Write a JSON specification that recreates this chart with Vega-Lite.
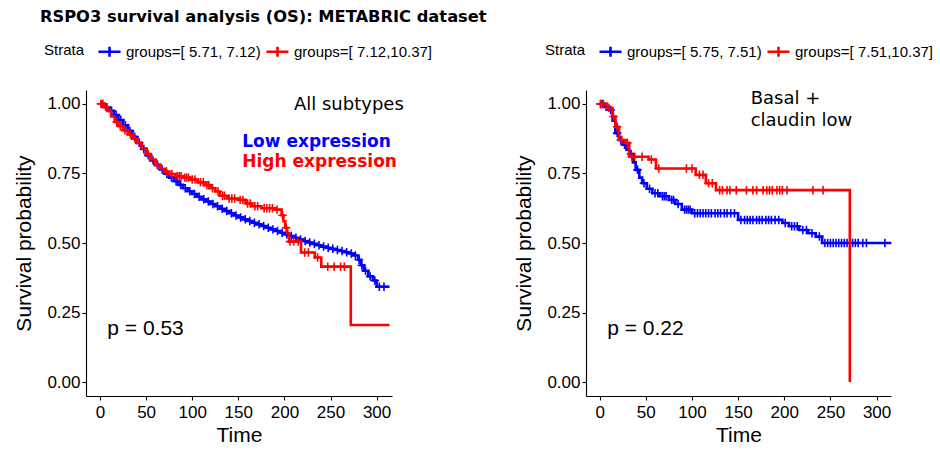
{
  "$schema": "https://vega.github.io/schema/vega-lite/v6.json",
  "background": "white",
  "padding": {"left": 13, "top": 8, "right": 5, "bottom": 5},
  "title": {"text": "RSPO3 survival analysis (OS): METABRIC dataset", "anchor": "start", "font": "DejaVu Sans", "fontSize": 16.3, "fontWeight": "bold", "color": "black", "offset": 14, "dx": 26},
  "bounds": "flush",
  "spacing": 194,
  "config": {
    "view": {"stroke": null},
    "axis": {"domainColor": "black", "domainWidth": 1.1, "tickColor": "black", "tickWidth": 1.1, "tickSize": 4, "grid": false, "labelColor": "black", "labelFont": "Liberation Sans", "labelFontSize": 17, "titleFont": "Liberation Sans", "titleFontSize": 21, "titleFontWeight": "normal", "titleColor": "black"},
    "axisX": {"labelPadding": 4, "titlePadding": 4},
    "axisY": {"labelPadding": 2, "titlePadding": 12},
    "legend": {"orient": "none", "direction": "horizontal", "titleOrient": "left", "titleFont": "Liberation Sans", "titleFontSize": 15, "titleFontWeight": "normal", "titleColor": "black", "labelFont": "Liberation Sans", "labelFontSize": 15, "labelColor": "black", "symbolType": "M-1,0L1,0M0,-0.45L0,0.45", "symbolSize": 484, "symbolStrokeWidth": 2.6, "symbolFillColor": "transparent", "labelOffset": 4, "columnPadding": 0, "titlePadding": 12}
  },
  "datasets": {
    "A_low_curve": [{"t":0,"s":1},{"t":5,"s":0.988},{"t":10,"s":0.975},{"t":15,"s":0.96},{"t":20,"s":0.942},{"t":25,"s":0.923},{"t":30,"s":0.903},{"t":35,"s":0.882},{"t":40,"s":0.86},{"t":45,"s":0.838},{"t":50,"s":0.815},{"t":55,"s":0.797},{"t":60,"s":0.78},{"t":65,"s":0.764},{"t":70,"s":0.749},{"t":75,"s":0.735},{"t":80,"s":0.722},{"t":85,"s":0.709},{"t":90,"s":0.697},{"t":95,"s":0.686},{"t":100,"s":0.676},{"t":105,"s":0.666},{"t":110,"s":0.657},{"t":115,"s":0.649},{"t":120,"s":0.64},{"t":125,"s":0.632},{"t":130,"s":0.623},{"t":135,"s":0.615},{"t":140,"s":0.607},{"t":145,"s":0.599},{"t":150,"s":0.592},{"t":155,"s":0.585},{"t":160,"s":0.579},{"t":165,"s":0.573},{"t":170,"s":0.567},{"t":175,"s":0.561},{"t":180,"s":0.555},{"t":185,"s":0.549},{"t":190,"s":0.543},{"t":195,"s":0.537},{"t":200,"s":0.531},{"t":205,"s":0.525},{"t":210,"s":0.519},{"t":215,"s":0.513},{"t":220,"s":0.507},{"t":225,"s":0.502},{"t":230,"s":0.497},{"t":235,"s":0.492},{"t":240,"s":0.487},{"t":245,"s":0.483},{"t":250,"s":0.479},{"t":255,"s":0.475},{"t":260,"s":0.471},{"t":265,"s":0.467},{"t":270,"s":0.462},{"t":275,"s":0.455},{"t":280,"s":0.44},{"t":283,"s":0.42},{"t":286,"s":0.4},{"t":291,"s":0.38},{"t":296,"s":0.365},{"t":300,"s":0.343},{"t":314,"s":0.343}],
    "A_low_cens": [{"t":2.5,"s":1},{"t":7.5,"s":0.988},{"t":12.5,"s":0.975},{"t":17.5,"s":0.96},{"t":22.5,"s":0.942},{"t":27.5,"s":0.923},{"t":32.5,"s":0.903},{"t":37.5,"s":0.882},{"t":42.5,"s":0.86},{"t":47.5,"s":0.838},{"t":52.5,"s":0.815},{"t":57.5,"s":0.797},{"t":62.5,"s":0.78},{"t":67.5,"s":0.764},{"t":72.5,"s":0.749},{"t":77.5,"s":0.735},{"t":82.5,"s":0.722},{"t":87.5,"s":0.709},{"t":92.5,"s":0.697},{"t":97.5,"s":0.686},{"t":102.5,"s":0.676},{"t":107.5,"s":0.666},{"t":112.5,"s":0.657},{"t":117.5,"s":0.649},{"t":122.5,"s":0.64},{"t":127.5,"s":0.632},{"t":132.5,"s":0.623},{"t":137.5,"s":0.615},{"t":142.5,"s":0.607},{"t":147.5,"s":0.599},{"t":152.5,"s":0.592},{"t":157.5,"s":0.585},{"t":162.5,"s":0.579},{"t":167.5,"s":0.573},{"t":172.5,"s":0.567},{"t":177.5,"s":0.561},{"t":182.5,"s":0.555},{"t":187.5,"s":0.549},{"t":192.5,"s":0.543},{"t":197.5,"s":0.537},{"t":202.5,"s":0.531},{"t":207.5,"s":0.525},{"t":212.5,"s":0.519},{"t":217.5,"s":0.513},{"t":222.5,"s":0.507},{"t":227.5,"s":0.502},{"t":232.5,"s":0.497},{"t":237.5,"s":0.492},{"t":242.5,"s":0.487},{"t":247.5,"s":0.483},{"t":252.5,"s":0.479},{"t":257.5,"s":0.475},{"t":262.5,"s":0.471},{"t":267.5,"s":0.467},{"t":272.5,"s":0.462},{"t":277,"s":0.455},{"t":281,"s":0.44},{"t":284,"s":0.42},{"t":288,"s":0.4},{"t":293,"s":0.38},{"t":298,"s":0.365},{"t":303,"s":0.343},{"t":308,"s":0.343}],
    "A_high_curve": [{"t":0,"s":1},{"t":4,"s":0.99},{"t":8,"s":0.975},{"t":12,"s":0.955},{"t":16,"s":0.935},{"t":20,"s":0.92},{"t":25,"s":0.905},{"t":30,"s":0.89},{"t":35,"s":0.875},{"t":40,"s":0.86},{"t":45,"s":0.84},{"t":50,"s":0.82},{"t":55,"s":0.8},{"t":60,"s":0.782},{"t":65,"s":0.767},{"t":70,"s":0.757},{"t":75,"s":0.748},{"t":82,"s":0.74},{"t":90,"s":0.735},{"t":98,"s":0.728},{"t":106,"s":0.718},{"t":114,"s":0.708},{"t":120,"s":0.697},{"t":125,"s":0.685},{"t":130,"s":0.67},{"t":138,"s":0.66},{"t":150,"s":0.655},{"t":158,"s":0.642},{"t":165,"s":0.632},{"t":175,"s":0.625},{"t":190,"s":0.62},{"t":197,"s":0.6},{"t":199,"s":0.578},{"t":201,"s":0.555},{"t":203,"s":0.535},{"t":205,"s":0.505},{"t":218,"s":0.466},{"t":233,"s":0.448},{"t":240,"s":0.415},{"t":272,"s":0.205},{"t":314,"s":0.205}],
    "A_high_cens": [{"t":1,"s":1},{"t":3,"s":1},{"t":6,"s":0.99},{"t":18,"s":0.935},{"t":22,"s":0.92},{"t":27,"s":0.905},{"t":33,"s":0.89},{"t":38,"s":0.875},{"t":52,"s":0.82},{"t":62,"s":0.782},{"t":72,"s":0.757},{"t":78,"s":0.748},{"t":84,"s":0.74},{"t":86,"s":0.74},{"t":88,"s":0.74},{"t":92,"s":0.735},{"t":94,"s":0.735},{"t":96,"s":0.735},{"t":100,"s":0.728},{"t":103,"s":0.728},{"t":109,"s":0.718},{"t":112,"s":0.718},{"t":116,"s":0.708},{"t":118,"s":0.708},{"t":122,"s":0.697},{"t":128,"s":0.685},{"t":133,"s":0.67},{"t":135,"s":0.67},{"t":140,"s":0.66},{"t":143,"s":0.66},{"t":146,"s":0.66},{"t":152,"s":0.655},{"t":155,"s":0.655},{"t":160,"s":0.642},{"t":163,"s":0.642},{"t":168,"s":0.632},{"t":171,"s":0.632},{"t":178,"s":0.625},{"t":181,"s":0.625},{"t":184,"s":0.625},{"t":187,"s":0.625},{"t":192,"s":0.62},{"t":198,"s":0.6},{"t":202,"s":0.555},{"t":206,"s":0.505},{"t":210,"s":0.505},{"t":215,"s":0.505},{"t":222,"s":0.466},{"t":226,"s":0.466},{"t":236,"s":0.448},{"t":247,"s":0.415},{"t":254,"s":0.415},{"t":261,"s":0.415},{"t":265,"s":0.415}],
    "B_low_curve": [{"t":0,"s":1},{"t":5,"s":0.99},{"t":10,"s":0.978},{"t":14,"s":0.94},{"t":17,"s":0.895},{"t":21,"s":0.87},{"t":25,"s":0.853},{"t":29,"s":0.835},{"t":32,"s":0.82},{"t":36,"s":0.79},{"t":39,"s":0.763},{"t":43,"s":0.735},{"t":46,"s":0.715},{"t":51,"s":0.695},{"t":57,"s":0.679},{"t":65,"s":0.668},{"t":75,"s":0.655},{"t":82,"s":0.64},{"t":89,"s":0.62},{"t":100,"s":0.607},{"t":150,"s":0.583},{"t":198,"s":0.572},{"t":205,"s":0.56},{"t":216,"s":0.547},{"t":226,"s":0.535},{"t":234,"s":0.523},{"t":241,"s":0.5},{"t":316,"s":0.5}],
    "B_low_cens": [{"t":1,"s":1},{"t":3,"s":1},{"t":7,"s":0.99},{"t":12,"s":0.978},{"t":19,"s":0.895},{"t":23,"s":0.87},{"t":27,"s":0.853},{"t":34,"s":0.82},{"t":41,"s":0.763},{"t":48,"s":0.715},{"t":54,"s":0.695},{"t":60,"s":0.679},{"t":63,"s":0.679},{"t":68,"s":0.668},{"t":70,"s":0.668},{"t":72,"s":0.668},{"t":78,"s":0.655},{"t":80,"s":0.655},{"t":85,"s":0.64},{"t":92,"s":0.62},{"t":94,"s":0.62},{"t":96,"s":0.62},{"t":98,"s":0.62},{"t":103,"s":0.607},{"t":106,"s":0.607},{"t":109,"s":0.607},{"t":112,"s":0.607},{"t":115,"s":0.607},{"t":118,"s":0.607},{"t":121,"s":0.607},{"t":125,"s":0.607},{"t":128,"s":0.607},{"t":131,"s":0.607},{"t":135,"s":0.607},{"t":138,"s":0.607},{"t":142,"s":0.607},{"t":146,"s":0.607},{"t":153,"s":0.583},{"t":157,"s":0.583},{"t":160,"s":0.583},{"t":163,"s":0.583},{"t":166,"s":0.583},{"t":170,"s":0.583},{"t":173,"s":0.583},{"t":176,"s":0.583},{"t":180,"s":0.583},{"t":183,"s":0.583},{"t":186,"s":0.583},{"t":190,"s":0.583},{"t":194,"s":0.583},{"t":201,"s":0.572},{"t":208,"s":0.56},{"t":211,"s":0.56},{"t":214,"s":0.56},{"t":220,"s":0.547},{"t":224,"s":0.547},{"t":230,"s":0.535},{"t":238,"s":0.523},{"t":244,"s":0.5},{"t":247,"s":0.5},{"t":250,"s":0.5},{"t":253,"s":0.5},{"t":256,"s":0.5},{"t":259,"s":0.5},{"t":262,"s":0.5},{"t":265,"s":0.5},{"t":268,"s":0.5},{"t":271,"s":0.5},{"t":274,"s":0.5},{"t":277,"s":0.5},{"t":280,"s":0.5},{"t":285,"s":0.5},{"t":289,"s":0.5},{"t":309,"s":0.5}],
    "B_high_curve": [{"t":0,"s":1},{"t":8,"s":0.985},{"t":14,"s":0.955},{"t":17,"s":0.918},{"t":21,"s":0.87},{"t":28,"s":0.86},{"t":32,"s":0.81},{"t":53,"s":0.8},{"t":61,"s":0.768},{"t":104,"s":0.745},{"t":115,"s":0.715},{"t":126,"s":0.69},{"t":271,"s":0}],
    "B_high_cens": [{"t":1,"s":1},{"t":4,"s":1},{"t":10,"s":0.985},{"t":15,"s":0.955},{"t":19,"s":0.918},{"t":24,"s":0.87},{"t":30,"s":0.86},{"t":35,"s":0.81},{"t":38,"s":0.81},{"t":46,"s":0.81},{"t":56,"s":0.8},{"t":64,"s":0.768},{"t":94,"s":0.768},{"t":100,"s":0.768},{"t":108,"s":0.745},{"t":112,"s":0.745},{"t":118,"s":0.715},{"t":122,"s":0.715},{"t":130,"s":0.69},{"t":133,"s":0.69},{"t":138,"s":0.69},{"t":141,"s":0.69},{"t":148,"s":0.69},{"t":159,"s":0.69},{"t":166,"s":0.69},{"t":170,"s":0.69},{"t":177,"s":0.69},{"t":181,"s":0.69},{"t":184,"s":0.69},{"t":187,"s":0.69},{"t":192,"s":0.69},{"t":195,"s":0.69},{"t":198,"s":0.69},{"t":203,"s":0.69},{"t":231,"s":0.69},{"t":242,"s":0.69}]
  },
  "hconcat": [
    {
      "width": 306,
      "height": 306,
      "layer": [
        {"data": {"name": "A_low_curve"}, "mark": {"type": "line", "interpolate": "step-after", "strokeWidth": 2.6},
         "encoding": {
           "x": {"field": "t", "type": "quantitative", "scale": {"domain": [-15.2, 316.7], "nice": false, "zero": false}, "axis": {"title": "Time", "values": [0, 50, 100, 150, 200, 250, 300]}},
           "y": {"field": "s", "type": "quantitative", "scale": {"domain": [-0.05, 1.05], "nice": false, "zero": false}, "axis": {"title": "Survival probability", "values": [0, 0.25, 0.5, 0.75, 1], "format": ".2f"}},
           "color": {"datum": "groups=[ 5.71, 7.12)", "type": "nominal", "scale": {"domain": ["groups=[ 5.71, 7.12)", "groups=[ 7.12,10.37]"], "range": ["#0000ff", "#ff0000"]}, "legend": {"title": "Strata", "legendX": -42, "legendY": -51}}
         }},
        {"data": {"name": "A_low_cens"}, "mark": {"type": "point", "shape": "M-1,0L1,0M0,-1L0,1", "filled": false, "size": 72, "strokeWidth": 1.6, "opacity": 1},
         "encoding": {"x": {"field": "t", "type": "quantitative"}, "y": {"field": "s", "type": "quantitative"}, "color": {"datum": "groups=[ 5.71, 7.12)", "type": "nominal"}}},
        {"data": {"name": "A_high_curve"}, "mark": {"type": "line", "interpolate": "step-after", "strokeWidth": 2.6},
         "encoding": {"x": {"field": "t", "type": "quantitative"}, "y": {"field": "s", "type": "quantitative"}, "color": {"datum": "groups=[ 7.12,10.37]", "type": "nominal"}}},
        {"data": {"name": "A_high_cens"}, "mark": {"type": "point", "shape": "M-1,0L1,0M0,-1L0,1", "filled": false, "size": 72, "strokeWidth": 1.6, "opacity": 1},
         "encoding": {"x": {"field": "t", "type": "quantitative"}, "y": {"field": "s", "type": "quantitative"}, "color": {"datum": "groups=[ 7.12,10.37]", "type": "nominal"}}},
        {"data": {"values": [{"label": "All subtypes"}]}, "mark": {"type": "text", "align": "right", "baseline": "alphabetic", "font": "DejaVu Sans", "fontSize": 18, "color": "black"},
         "encoding": {"x": {"datum": 329.5}, "y": {"datum": 0.978}, "text": {"field": "label"}}},
        {"data": {"values": [{"label": "Low expression"}]}, "mark": {"type": "text", "align": "left", "baseline": "alphabetic", "font": "DejaVu Sans", "fontSize": 17, "fontWeight": "bold", "color": "#0000ff"},
         "encoding": {"x": {"datum": 154.3}, "y": {"datum": 0.846}, "text": {"field": "label"}}},
        {"data": {"values": [{"label": "High expression"}]}, "mark": {"type": "text", "align": "left", "baseline": "alphabetic", "font": "DejaVu Sans", "fontSize": 17, "fontWeight": "bold", "color": "#ff0000"},
         "encoding": {"x": {"datum": 154.3}, "y": {"datum": 0.774}, "text": {"field": "label"}}},
        {"data": {"values": [{"label": "p = 0.53"}]}, "mark": {"type": "text", "align": "left", "baseline": "alphabetic", "font": "Liberation Sans", "fontSize": 21, "color": "black"},
         "encoding": {"x": {"datum": 7.9}, "y": {"datum": 0.169}, "text": {"field": "label"}}}
      ]
    },
    {
      "width": 305,
      "height": 306,
      "layer": [
        {"data": {"name": "B_low_curve"}, "mark": {"type": "line", "interpolate": "step-after", "strokeWidth": 2.6},
         "encoding": {
           "x": {"field": "t", "type": "quantitative", "scale": {"domain": [-14.8, 315.6], "nice": false, "zero": false}, "axis": {"title": "Time", "values": [0, 50, 100, 150, 200, 250, 300]}},
           "y": {"field": "s", "type": "quantitative", "scale": {"domain": [-0.05, 1.05], "nice": false, "zero": false}, "axis": {"title": "Survival probability", "values": [0, 0.25, 0.5, 0.75, 1], "format": ".2f"}},
           "color": {"datum": "groups=[ 5.75, 7.51)", "type": "nominal", "scale": {"domain": ["groups=[ 5.75, 7.51)", "groups=[ 7.51,10.37]"], "range": ["#0000ff", "#ff0000"]}, "legend": {"title": "Strata", "legendX": -41, "legendY": -51}}
         }},
        {"data": {"name": "B_low_cens"}, "mark": {"type": "point", "shape": "M-1,0L1,0M0,-1L0,1", "filled": false, "size": 72, "strokeWidth": 1.6, "opacity": 1},
         "encoding": {"x": {"field": "t", "type": "quantitative"}, "y": {"field": "s", "type": "quantitative"}, "color": {"datum": "groups=[ 5.75, 7.51)", "type": "nominal"}}},
        {"data": {"name": "B_high_curve"}, "mark": {"type": "line", "interpolate": "step-after", "strokeWidth": 2.6},
         "encoding": {"x": {"field": "t", "type": "quantitative"}, "y": {"field": "s", "type": "quantitative"}, "color": {"datum": "groups=[ 7.51,10.37]", "type": "nominal"}}},
        {"data": {"name": "B_high_cens"}, "mark": {"type": "point", "shape": "M-1,0L1,0M0,-1L0,1", "filled": false, "size": 72, "strokeWidth": 1.6, "opacity": 1},
         "encoding": {"x": {"field": "t", "type": "quantitative"}, "y": {"field": "s", "type": "quantitative"}, "color": {"datum": "groups=[ 7.51,10.37]", "type": "nominal"}}},
        {"data": {"values": [{"label": "Basal +"}]}, "mark": {"type": "text", "align": "left", "baseline": "alphabetic", "font": "DejaVu Sans", "fontSize": 18, "color": "black"},
         "encoding": {"x": {"datum": 163.6}, "y": {"datum": 1.0}, "text": {"field": "label"}}},
        {"data": {"values": [{"label": "claudin low"}]}, "mark": {"type": "text", "align": "left", "baseline": "alphabetic", "font": "DejaVu Sans", "fontSize": 18, "color": "black"},
         "encoding": {"x": {"datum": 163.6}, "y": {"datum": 0.922}, "text": {"field": "label"}}},
        {"data": {"values": [{"label": "p = 0.22"}]}, "mark": {"type": "text", "align": "left", "baseline": "alphabetic", "font": "Liberation Sans", "fontSize": 21, "color": "black"},
         "encoding": {"x": {"datum": 8.2}, "y": {"datum": 0.169}, "text": {"field": "label"}}}
      ]
    }
  ],
  "resolve": {"scale": {"color": "independent"}, "legend": {"color": "independent"}}
}
